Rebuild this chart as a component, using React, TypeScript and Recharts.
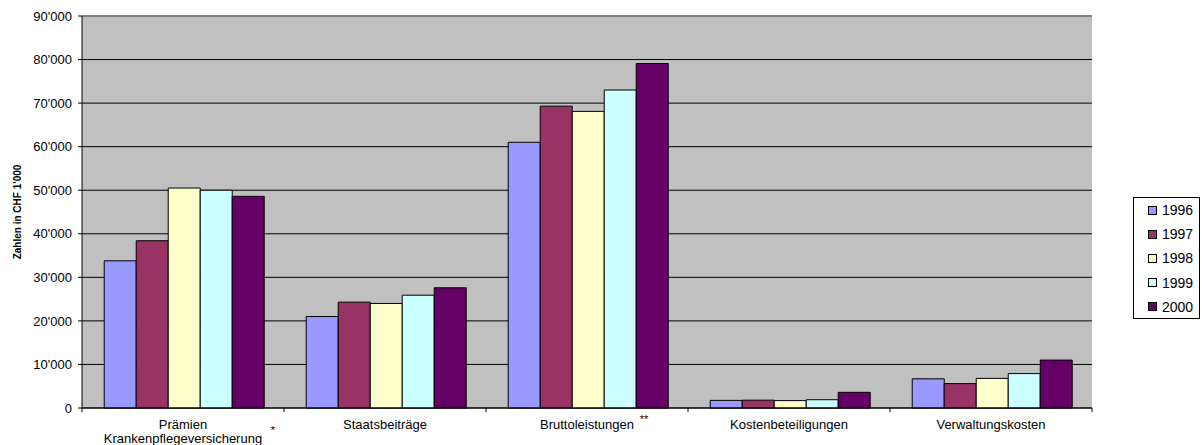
import React from 'react';
import { BarChart, Bar, XAxis, YAxis, CartesianGrid, ReferenceLine } from 'recharts';

const categories = ['Prämien Krankenpflegeversicherung', 'Staatsbeiträge', 'Bruttoleistungen', 'Kostenbeteiligungen', 'Verwaltungskosten'];
const categoryLines = [['Prämien', 'Krankenpflegeversicherung'], ['Staatsbeiträge'], ['Bruttoleistungen'], ['Kostenbeteiligungen'], ['Verwaltungskosten']];
const footnoteMarks = ['*', '', '**', '', ''];
const years = ['1996', '1997', '1998', '1999', '2000'];
const yearColors = ['#9999FF', '#993366', '#FFFFCC', '#CCFFFF', '#660066'];

const v1996 = [33800, 21000, 61000, 1750, 6700];
const v1997 = [38400, 24300, 69300, 1800, 5600];
const v1998 = [50500, 24000, 68100, 1700, 6800];
const v1999 = [50000, 25900, 73000, 1900, 7900];
const v2000 = [48600, 27600, 79100, 3600, 11000];
const seriesValues = [v1996, v1997, v1998, v1999, v2000];

const yTicks = [0, 10000, 20000, 30000, 40000, 50000, 60000, 70000, 80000, 90000];
const yTitle = "Zahlen in CHF 1'000";

const data = categories.map((c, i) => {
  const row: any = { name: c, idx: i };
  years.forEach((y, k) => { row[y] = seriesValues[k][i]; });
  return row;
});

const FONT = '"Liberation Sans", Arial, sans-serif';

const fmt = (v: number) => (v === 0 ? '0' : `${v / 1000}'000`);

const markOffsets = [
  { dx: 90, dy: 26 },
  { dx: 0, dy: 0 },
  { dx: 57, dy: 15 },
  { dx: 0, dy: 0 },
  { dx: 0, dy: 0 },
];

const XTick = (props: any) => {
  const { x, y, payload, index } = props;
  const off = payload && payload.offset ? payload.offset : 0;
  const axisY = y - 4;
  const i = index;
  const lines = categoryLines[i] || [String(payload.value)];
  const mark = footnoteMarks[i];
  return (
    <g>
      {i === 0 && <line x1={x - off} y1={axisY} x2={x - off} y2={axisY + 4} stroke="#000" />}
      <line x1={x + off} y1={axisY} x2={x + off} y2={axisY + 4} stroke="#000" />
      {lines.map((l: string, k: number) => (
        <text key={k} x={x} y={axisY + 21 + k * 13.5} textAnchor="middle" fontSize={13} fontFamily={FONT} fill="#000">{l}</text>
      ))}
      {mark && (
        <text x={x + markOffsets[i].dx} y={axisY + markOffsets[i].dy} textAnchor="middle" fontSize={11} fontFamily={FONT} fill="#000">{mark}</text>
      )}
    </g>
  );
};

const YTitle = (props: any) => {
  const vb = props.viewBox || { x: 0, y: 16, width: 82, height: 392 };
  const cx = 17;
  const cy = vb.y + vb.height / 2;
  return (
    <text x={cx} y={cy} transform={`rotate(-90 ${cx} ${cy})`} textAnchor="middle" dominantBaseline="central" fontSize={10} fontWeight="bold" fontFamily={FONT} fill="#000">{yTitle}</text>
  );
};

export default function App() {
  return (
    <div style={{ position: 'absolute', left: 0, top: 0, width: 1202, height: 445, background: '#fff' }}>
      <BarChart width={1202} height={445} data={data} margin={{ top: 16, right: 110, bottom: 0, left: 0 }} barCategoryGap="11%" barGap={0}>
        <CartesianGrid vertical={false} stroke="#000" fill="#C0C0C0" fillOpacity={1} />
        <XAxis dataKey="name" height={37} interval={0} tickSize={4} tickMargin={0} tickLine={false} axisLine={{ stroke: '#000' }} tick={<XTick />} />
        <YAxis domain={[0, 90000]} ticks={yTicks} width={82} tickSize={4} tickMargin={6} tickFormatter={fmt} interval={0}
          axisLine={{ stroke: '#000' }} tickLine={{ stroke: '#000' }}
          tick={{ fontSize: 13, fontFamily: FONT, fill: '#000' }}
          label={<YTitle />} />
        <YAxis yAxisId="r" orientation="right" domain={[0, 90000]} width={0} tick={false} tickLine={false} axisLine={{ stroke: '#808080', strokeWidth: 2 }} />
        <ReferenceLine y={90000} stroke="#808080" strokeWidth={2} />
        {years.map((y, k) => (
          <Bar key={y} dataKey={y} fill={yearColors[k]} stroke="#000" strokeWidth={1} isAnimationActive={false} />
        ))}
      </BarChart>
      <div style={{ position: 'absolute', left: 1133, top: 197, width: 67, height: 122, border: '1px solid #000', background: '#fff', boxSizing: 'border-box', paddingTop: 0 }}>
        {years.map((y, k) => (
          <div key={y} style={{ display: 'flex', alignItems: 'center', height: 24.2 }}>
            <span style={{ display: 'inline-block', width: 7, height: 7, border: '1px solid #000', background: yearColors[k], marginLeft: 14 }} />
            <span style={{ marginLeft: 5, fontSize: 14, fontFamily: FONT, color: '#000', lineHeight: '14px' }}>{y}</span>
          </div>
        ))}
      </div>
    </div>
  );
}
